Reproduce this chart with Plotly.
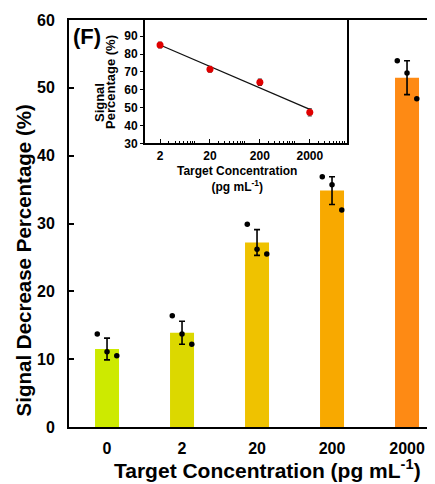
import numpy as np
import plotly.graph_objects as go

# ---------------- data ----------------
categories = ["0", "2", "20", "200", "2000"]
bar_means = [11.5, 13.9, 27.2, 34.85, 51.5]
bar_errors = [1.6, 1.7, 1.9, 2.05, 2.5]
rep_a = [13.7, 16.4, 29.9, 36.9, 54.0]   # left replicate
rep_b = [11.1, 13.7, 26.2, 35.7, 52.2]   # middle replicate
rep_c = [10.5, 12.2, 25.5, 32.0, 48.4]   # right replicate
bar_colors = ["#cdea00", "#dcd800", "#efc200", "#f8a900", "#fe8a14"]

inset_conc = [2, 20, 200, 2000]
inset_signal = [85.0, 71.5, 64.2, 47.4]
inset_err = [1.6, 1.6, 1.8, 2.0]
inset_yticks = [30, 40, 50, 60, 70, 80, 90]

# ---------------- figure ----------------
idx = np.arange(len(categories))
font = "Liberation Sans, Arial, sans-serif"

fig = go.Figure()
fig.add_trace(go.Bar(
    x=idx, y=bar_means, width=0.32, marker=dict(color=bar_colors, line=dict(width=0)),
    error_y=dict(type="data", array=bar_errors, color="black", thickness=1.6, width=3),
    showlegend=False, xaxis="x", yaxis="y"))

offsets = [-0.13, 0.0, 0.13]
for off, reps in zip(offsets, [rep_a, rep_b, rep_c]):
    fig.add_trace(go.Scatter(
        x=idx + off, y=reps, mode="markers",
        marker=dict(color="black", size=5.5), showlegend=False,
        xaxis="x", yaxis="y"))

# inset
fit = np.polyfit(np.log10(inset_conc), inset_signal, 1)
fit_x = [inset_conc[0], inset_conc[-1]]
fit_y = list(np.polyval(fit, np.log10(fit_x)))
fig.add_trace(go.Scatter(x=fit_x, y=fit_y, mode="lines",
                         line=dict(color="#111111", width=1.3),
                         showlegend=False, xaxis="x2", yaxis="y2"))
fig.add_trace(go.Scatter(
    x=inset_conc, y=inset_signal, mode="markers",
    marker=dict(color="#e00000", size=7),
    error_y=dict(type="data", array=inset_err, color="#222222", thickness=1, width=2),
    showlegend=False, xaxis="x2", yaxis="y2"))

minor_vals = [m * 10 ** e for e in range(0, 4) for m in range(1, 10)] + [10000]

bold = dict(family=font, weight="bold", color="black")

# page has an 8px body margin: figure is sized so the plot lands where the reference's does
fig.update_layout(
    width=427, height=476,
    margin=dict(l=61, r=0, t=12, b=57, autoexpand=False),
    paper_bgcolor="white", plot_bgcolor="white",
    font=dict(family=font, color="black"),
    xaxis=dict(
        range=[-0.507, 4.373], tickvals=list(idx), ticktext=categories,
        automargin=False, ticklabelstandoff=6,
        showline=True, linecolor="black", linewidth=2, mirror=True,
        ticks="", showgrid=False, zeroline=False,
        tickfont=dict(size=16, **bold)),
    yaxis=dict(
        range=[0, 60], tickvals=[0, 10, 20, 30, 40, 50, 60],
        automargin=False, ticklabelstandoff=9,
        showline=True, linecolor="black", linewidth=2, mirror=False,
        ticks="inside", ticklen=5, tickwidth=1.5, tickcolor="black",
        showgrid=False, zeroline=False,
        tickfont=dict(size=16, **bold)),
    xaxis2=dict(
        type="log", range=[0, 4.04], domain=[0.2077, 0.7587], anchor="y2",
        automargin=False,
        tickvals=inset_conc, ticktext=[str(c) for c in inset_conc],
        showline=True, linecolor="black", linewidth=2, mirror=True,
        ticks="inside", ticklen=4, tickcolor="black", tickwidth=1,
        minor=dict(tickvals=minor_vals, ticks="inside", ticklen=2,
                   tickcolor="black", tickwidth=1, showgrid=False),
        showgrid=False, zeroline=False,
        tickfont=dict(size=12, **bold)),
    yaxis2=dict(
        range=[30, 99], domain=[0.6966, 1.0], anchor="x2",
        automargin=False,
        tickvals=inset_yticks,
        showline=True, linecolor="black", linewidth=2, mirror=True,
        ticks="outside", ticklen=3, tickcolor="black", tickwidth=1,
        showgrid=False, zeroline=False,
        tickfont=dict(size=12, **bold)),
    annotations=[
        dict(text="(F)", x=0.006, y=0.996, xref="paper", yref="paper",
             xanchor="left", yanchor="top", showarrow=False,
             font=dict(size=22, **bold)),
        # main axis titles
        dict(text="Signal Decrease Percentage (%)", x=-0.125, y=0.41,
             xref="paper", yref="paper", textangle=-90, showarrow=False,
             xanchor="center", yanchor="middle", font=dict(size=20.5, **bold)),
        dict(text="Target Concentration (pg mL<sup>-1</sup>)", x=0.541, y=-0.103,
             xref="paper", yref="paper", showarrow=False,
             xanchor="center", yanchor="middle", font=dict(size=21, **bold)),
        # inset axis titles
        dict(text="Signal", x=0.082, y=0.796, xref="paper", yref="paper",
             textangle=-90, showarrow=False, xanchor="center", yanchor="middle",
             font=dict(size=13, **bold)),
        dict(text="Percentage (%)", x=0.115, y=0.848, xref="paper", yref="paper",
             textangle=-90, showarrow=False, xanchor="center", yanchor="middle",
             font=dict(size=13, **bold)),
        dict(text="Target Concentration<br>(pg mL<sup>-1</sup>)", x=0.459, y=0.609,
             xref="paper", yref="paper", showarrow=False,
             xanchor="center", yanchor="middle", font=dict(size=12, **bold)),
    ],
)

fig.write_html("out.html")
